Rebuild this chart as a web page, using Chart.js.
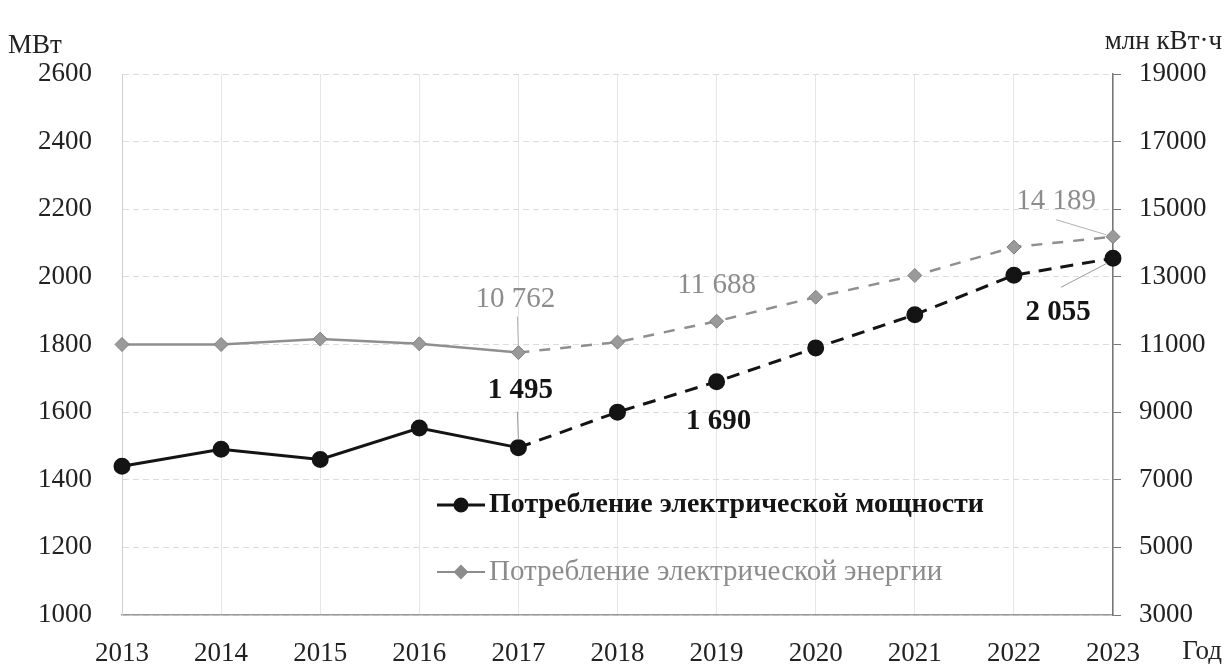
<!DOCTYPE html>
<html lang="ru">
<head>
<meta charset="utf-8">
<title>Потребление электрической мощности и энергии</title>
<script src="https://cdn.jsdelivr.net/npm/chart.js@4.4.1/dist/chart.umd.min.js"></script>
<style>
  html, body { margin: 0; padding: 0; background: #fff; }
  #wrap { width: 1225px; height: 664px; position: relative; }
</style>
</head>
<body>
<div id="wrap"><canvas id="chart"></canvas></div>
<script>
// --- DATA ---
const years = ['2013', '2014', '2015', '2016', '2017', '2018', '2019', '2020', '2021', '2022', '2023'];
const powerMW = [1440, 1490, 1460, 1553, 1495, 1600, 1690, 1790, 1888, 2005, 2055];
const energyMlnKWh = [11000, 11000, 11160, 11020, 10762, 11070, 11688, 12400, 13040, 13880, 14189];
const powerTicks = [1000, 1200, 1400, 1600, 1800, 2000, 2200, 2400, 2600];
const energyTicks = [3000, 5000, 7000, 9000, 11000, 13000, 15000, 17000, 19000];
const forecastFrom = 4;            // after 2017 the lines are dashed
const labelledPoints = [4, 6, 10]; // 2017, 2019, 2023

const SERIF = '"Liberation Serif", "DejaVu Serif", serif';
const BLACK = '#141414';
const GREY = '#8c8c8c';

// thousands separated with a space: 1495 -> "1 495"
function fmt(v) {
    return String(v).replace(/\B(?=(\d{3})+(?!\d))/g, ' ');
}

// label offsets (px) from the point, plus optional leader line [x1, y1, x2, y2]
const labelPlacement = {
    0: { // power
        4:  { dx: 2,   dy: -57, leader: [-1, -36, 0, -8] },
        6:  { dx: 2,   dy: 40 },
        10: { dx: -55, dy: 54,  leader: [-52, 29, -6, 5] }
    },
    1: { // energy
        4:  { dx: -3,  dy: -53, leader: [-1, -36, 0, -7] },
        6:  { dx: 0,   dy: -36 },
        10: { dx: -57, dy: -35, leader: [-57, -17, -7, -2] }
    }
};

const overlay = {
    id: 'overlay',
    afterDatasetsDraw(chart) {
        const { ctx, chartArea } = chart;
        ctx.save();

        // --- value labels ---
        [0, 1].forEach(di => {
            const meta = chart.getDatasetMeta(di);
            const values = chart.data.datasets[di].data;
            labelledPoints.forEach(i => {
                const pt = meta.data[i];
                const p = labelPlacement[di][i];
                if (p.leader) {
                    ctx.strokeStyle = di === 0 ? '#9a9a9a' : '#b0b0b0';
                    ctx.lineWidth = 1;
                    ctx.beginPath();
                    ctx.moveTo(pt.x + p.leader[0], pt.y + p.leader[1]);
                    ctx.lineTo(pt.x + p.leader[2], pt.y + p.leader[3]);
                    ctx.stroke();
                }
                ctx.font = (di === 0 ? 'bold ' : '') + '29px ' + SERIF;
                ctx.fillStyle = di === 0 ? BLACK : GREY;
                ctx.textAlign = 'center';
                ctx.textBaseline = 'middle';
                ctx.fillText(fmt(values[i]), pt.x + p.dx, pt.y + p.dy);
            });
        });

        // --- legend inside the plot ---
        const lx = chartArea.left + 315;
        const items = [
            { text: 'Потребление электрической мощности', y: chartArea.top + 431, color: BLACK, font: 'bold 28px ', style: 'circle', width: 3 },
            { text: 'Потребление электрической энергии', y: chartArea.top + 498, color: GREY, font: '29px ', style: 'rectRot', width: 2 }
        ];
        items.forEach(it => {
            ctx.strokeStyle = it.color;
            ctx.lineWidth = it.width;
            ctx.beginPath();
            ctx.moveTo(lx, it.y);
            ctx.lineTo(lx + 48, it.y);
            ctx.stroke();
            Chart.helpers.drawPoint(ctx, {
                pointStyle: it.style, radius: 6, borderWidth: 1,
            }, lx + 24, it.y);
            ctx.fillStyle = it.color;
            ctx.fill();
            ctx.font = it.font + SERIF;
            ctx.textAlign = 'left';
            ctx.textBaseline = 'middle';
            ctx.fillText(it.text, lx + 52, it.y);
        });

        // --- axis titles ---
        ctx.fillStyle = '#222';
        ctx.font = '27px ' + SERIF;
        ctx.textBaseline = 'middle';
        ctx.textAlign = 'left';
        ctx.fillText('МВт', 8, 46);
        ctx.textAlign = 'right';
        ctx.fillText('млн кВт·ч', 1222, 42);
        ctx.fillText('Год', 1222, 652);

        ctx.restore();
    }
};

const dashAfterForecast = (dash) => (c) => c.p0DataIndex >= forecastFrom ? dash : undefined;
const plainNumber = (v) => String(v);

new Chart(document.getElementById('chart'), {
    type: 'line',
    data: {
        labels: years,
        datasets: [
            {
                label: 'Потребление электрической мощности',
                data: powerMW,
                yAxisID: 'y',
                borderColor: BLACK,
                borderWidth: 3,
                pointStyle: 'circle',
                pointRadius: 7,
                pointBackgroundColor: BLACK,
                pointBorderColor: BLACK,
                tension: 0,
                segment: { borderDash: dashAfterForecast([13, 9]) }
            },
            {
                label: 'Потребление электрической энергии',
                data: energyMlnKWh,
                yAxisID: 'y2',
                borderColor: '#8f8f8f',
                borderWidth: 2.5,
                pointStyle: 'rectRot',
                pointRadius: 7,
                pointBackgroundColor: '#9a9a9a',
                pointBorderColor: '#7d7d7d',
                pointBorderWidth: 1,
                tension: 0,
                segment: { borderDash: dashAfterForecast([11, 10]) }
            }
        ]
    },
    options: {
        responsive: true,
        maintainAspectRatio: false,
        animation: false,
        layout: { padding: { top: 74 } },
        plugins: {
            legend: { display: false },
            tooltip: { enabled: false }
        },
        scales: {
            x: {
                offset: false,
                grid: { color: '#e6e6e6', lineWidth: 1, drawTicks: false },
                border: { color: '#9a9a9a', width: 1.5 },
                ticks: { color: '#222', font: { family: SERIF, size: 27 }, padding: 23, maxRotation: 0, autoSkip: false },
                afterFit: s => { s.height = 49; }
            },
            y: {
                position: 'left',
                min: 1000, max: 2600,
                afterBuildTicks: s => { s.ticks = powerTicks.map(v => ({ value: v })); },
                grid: { color: '#dcdcdc', lineWidth: 1, drawTicks: false },
                border: { color: '#cfcfcf', dash: [6, 4] },
                ticks: { color: '#222', font: { family: SERIF, size: 27 }, padding: 30, callback: plainNumber },
                afterFit: s => { s.width = 122; }
            },
            y2: {
                position: 'right',
                min: 3000, max: 19000,
                afterBuildTicks: s => { s.ticks = energyTicks.map(v => ({ value: v })); },
                grid: { drawOnChartArea: false, drawTicks: true, tickLength: 8, color: '#777' },
                border: { color: '#777', width: 1.5 },
                ticks: { color: '#222', font: { family: SERIF, size: 27 }, padding: 18, callback: plainNumber },
                afterFit: s => { s.width = 112; }
            }
        }
    },
    plugins: [overlay]
});
</script>
</body>
</html>
